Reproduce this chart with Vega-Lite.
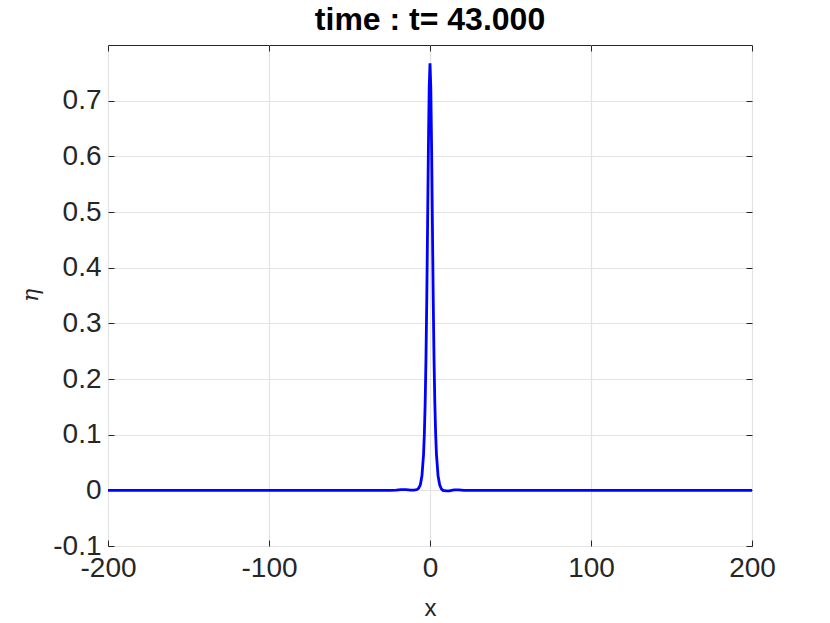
{
  "$schema": "https://vega.github.io/schema/vega-lite/v6.json",
  "width": 644,
  "height": 501,
  "autosize": "none",
  "padding": {"left": 108, "top": 45, "right": 78, "bottom": 77},
  "background": "white",
  "config": {
    "font": "Liberation Sans",
    "view": {"stroke": "#262626", "strokeWidth": 1}
  },
  "title": {
    "text": "time : t= 43.000",
    "font": "Liberation Sans",
    "fontSize": 32,
    "fontWeight": "bold",
    "color": "#000000",
    "anchor": "middle",
    "offset": 8
  },
  "data": {
    "values": [
      {"x": -200, "eta": 0},
      {"x": -100, "eta": 0},
      {"x": -50, "eta": 0},
      {"x": -25, "eta": 0},
      {"x": -21, "eta": 0.0003},
      {"x": -18, "eta": 0.0012},
      {"x": -15, "eta": 0.0012},
      {"x": -12, "eta": 0.0003},
      {"x": -10, "eta": 0.0003},
      {"x": -8, "eta": 0.0015},
      {"x": -7, "eta": 0.004},
      {"x": -6, "eta": 0.010},
      {"x": -5, "eta": 0.026},
      {"x": -4, "eta": 0.065},
      {"x": -3.5, "eta": 0.102},
      {"x": -3, "eta": 0.157},
      {"x": -2.5, "eta": 0.237},
      {"x": -2, "eta": 0.344},
      {"x": -1.5, "eta": 0.477},
      {"x": -1, "eta": 0.615},
      {"x": -0.5, "eta": 0.723},
      {"x": 0, "eta": 0.767},
      {"x": 0.5, "eta": 0.723},
      {"x": 1, "eta": 0.615},
      {"x": 1.5, "eta": 0.477},
      {"x": 2, "eta": 0.344},
      {"x": 2.5, "eta": 0.237},
      {"x": 3, "eta": 0.157},
      {"x": 3.5, "eta": 0.102},
      {"x": 4, "eta": 0.065},
      {"x": 5, "eta": 0.026},
      {"x": 6, "eta": 0.010},
      {"x": 7, "eta": 0.003},
      {"x": 8, "eta": 0.0},
      {"x": 10, "eta": -0.001},
      {"x": 12, "eta": -0.001},
      {"x": 15, "eta": 0.001},
      {"x": 18, "eta": 0.001},
      {"x": 21, "eta": 0.0},
      {"x": 25, "eta": 0},
      {"x": 50, "eta": 0},
      {"x": 100, "eta": 0},
      {"x": 200, "eta": 0}
    ]
  },
  "layer": [
    {
      "mark": {"type": "line", "color": "#0000ff", "strokeWidth": 2.8, "clip": true},
      "encoding": {
        "x": {
          "field": "x", "type": "quantitative",
          "scale": {"domain": [-200, 200], "nice": false, "zero": false},
          "axis": {
            "orient": "bottom", "title": "x", "values": [-200, -100, 0, 100, 200],
            "labelExpr": "replace(datum.label, '−', '-')",
            "grid": true, "gridColor": "#e3e3e3", "gridWidth": 1.2,
            "domain": false, "tickSize": -6, "tickColor": "#262626", "tickWidth": 1,
            "labelFont": "Liberation Sans", "labelFontSize": 28, "labelColor": "#262626",
            "labelPadding": 14, "labelFlush": false, "labelOverlap": false,
            "titleFont": "Liberation Sans", "titleFontSize": 24, "titleFontWeight": "normal",
            "titleColor": "#262626", "titlePadding": 14
          }
        },
        "y": {
          "field": "eta", "type": "quantitative",
          "scale": {"domain": [-0.1, 0.8], "nice": false, "zero": false},
          "axis": {
            "orient": "left", "title": "η", "values": [-0.1, 0, 0.1, 0.2, 0.3, 0.4, 0.5, 0.6, 0.7],
            "format": "~g",
            "labelExpr": "replace(datum.label, '−', '-')",
            "grid": true, "gridColor": "#e3e3e3", "gridWidth": 1.2,
            "domain": false, "tickSize": -6, "tickColor": "#262626", "tickWidth": 1,
            "labelFont": "Liberation Sans", "labelFontSize": 28, "labelColor": "#262626",
            "labelPadding": 13, "labelFlush": false, "labelOverlap": false,
            "titleFont": "DejaVu Serif", "titleFontSize": 22, "titleFontWeight": "normal",
            "titleFontStyle": "italic", "titleColor": "#262626",
            "titleX": -78, "titleY": 250, "titleBaseline": "middle", "titleAlign": "center", "titleAngle": -90
          }
        }
      }
    },
    {
      "mark": {"type": "line", "opacity": 0},
      "encoding": {
        "x": {
          "field": "x", "type": "quantitative",
          "axis": {
            "orient": "top", "title": null, "labels": false, "grid": false,
            "values": [-200, -100, 0, 100, 200],
            "domain": false, "tickSize": -6, "tickColor": "#262626", "tickWidth": 1
          }
        },
        "y": {
          "field": "eta", "type": "quantitative",
          "axis": {
            "orient": "right", "title": null, "labels": false, "grid": false,
            "values": [-0.1, 0, 0.1, 0.2, 0.3, 0.4, 0.5, 0.6, 0.7],
            "domain": false, "tickSize": -6, "tickColor": "#262626", "tickWidth": 1
          }
        }
      }
    }
  ],
  "resolve": {"axis": {"x": "independent", "y": "independent"}}
}
